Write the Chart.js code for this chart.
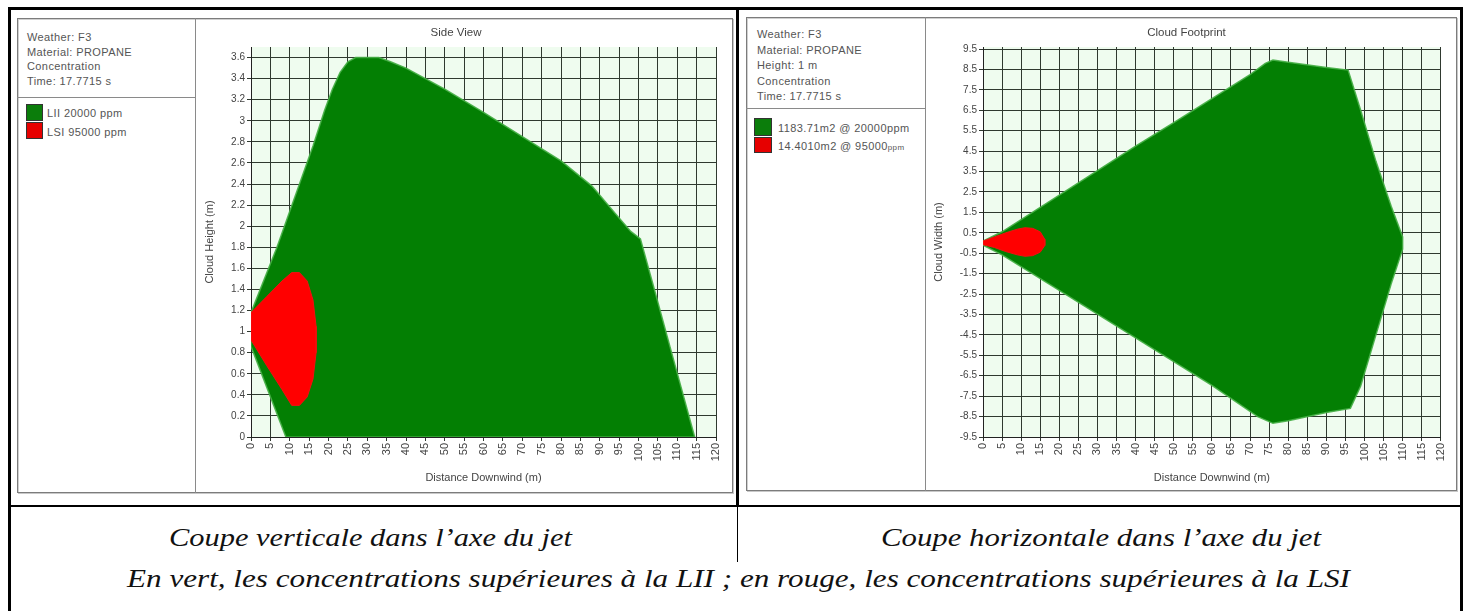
<!DOCTYPE html>
<html>
<head>
<meta charset="utf-8">
<script src="https://cdn.jsdelivr.net/npm/chart.js@4.4.1/dist/chart.umd.min.js"></script>
<style>
html,body{margin:0;padding:0;background:#fff;}
#root{position:relative;width:1469px;height:611px;overflow:hidden;background:#fff;font-family:"Liberation Sans",Arial,sans-serif;}
.bk{position:absolute;background:#000;}
.gl{position:absolute;background:#8a8a8a;}
.frame{position:absolute;border:1px solid #7c7c7c;box-shadow:1px 1px 0 #c8c8c8, inset 1px 1px 0 #d0d0d0;box-sizing:border-box;}
.info{position:absolute;font-size:11px;line-height:14.5px;color:#555;letter-spacing:0.4px;white-space:nowrap;}
.sw{position:absolute;box-sizing:border-box;border:1px solid #333;}
.lt{position:absolute;font-size:11px;color:#555;letter-spacing:0.4px;white-space:nowrap;line-height:14px;}
canvas{position:absolute;}
.cap{position:absolute;font-family:"Liberation Serif",serif;font-style:italic;font-size:25px;line-height:1;color:#111;white-space:nowrap;transform-origin:0 0;}
</style>
</head>
<body>
<div id="root">
  <!-- outer black structure -->
  <div class="bk" style="left:8px;top:7px;width:1455px;height:3px;"></div>
  <div class="bk" style="left:8px;top:7px;width:3px;height:604px;"></div>
  <div class="bk" style="left:1460px;top:7px;width:3px;height:604px;"></div>
  <div class="bk" style="left:736px;top:7px;width:3px;height:500px;"></div>
  <div class="bk" style="left:8px;top:505px;width:1455px;height:2px;"></div>
  <div class="bk" style="left:737px;top:505px;width:1px;height:57px;"></div>

  <!-- left panel -->
  <div class="frame" style="left:17px;top:18px;width:716px;height:475px;"></div>
  <div class="gl" style="left:195px;top:18px;width:1px;height:475px;"></div>
  <div class="gl" style="left:17px;top:97px;width:178px;height:1px;"></div>
  <div class="info" style="left:27px;top:30px;">Weather: F3<br>Material: PROPANE<br>Concentration<br>Time: 17.7715 s</div>
  <div class="sw" style="left:26px;top:104px;width:17px;height:17px;background:#0b7d0b;"></div>
  <div class="sw" style="left:26px;top:122px;width:17px;height:17px;background:#e60000;"></div>
  <div class="lt" style="left:47px;top:106px;">LII 20000 ppm</div>
  <div class="lt" style="left:47px;top:125px;">LSI 95000 ppm</div>
  <canvas id="c1" width="536" height="470" style="left:196px;top:20px;width:536px;height:470px;"></canvas>

  <!-- right panel -->
  <div class="frame" style="left:746px;top:17px;width:711px;height:474px;"></div>
  <div class="gl" style="left:925px;top:17px;width:1px;height:474px;"></div>
  <div class="gl" style="left:746px;top:108px;width:179px;height:1px;"></div>
  <div class="info" style="left:757px;top:27px;line-height:15.5px;">Weather: F3<br>Material: PROPANE<br>Height: 1 m<br>Concentration<br>Time: 17.7715 s</div>
  <div class="sw" style="left:754px;top:118px;width:18px;height:18px;background:#0b7d0b;"></div>
  <div class="sw" style="left:754px;top:137px;width:18px;height:16px;background:#e60000;"></div>
  <div class="lt" style="left:778px;top:121px;">1183.71m2 @ 20000ppm</div>
  <div class="lt" style="left:778px;top:139px;">14.4010m2 @ 95000<span style="font-size:8px;">ppm</span></div>
  <canvas id="c2" width="530" height="470" style="left:926px;top:20px;width:530px;height:470px;"></canvas>

  <!-- captions -->
  <div class="cap" id="cap1" data-cx="370" data-w="403" style="top:525px;">Coupe verticale dans l’axe du jet</div>
  <div class="cap" id="cap2" data-cx="1101" data-w="440" style="top:525px;">Coupe horizontale dans l’axe du jet</div>
  <div class="cap" id="cap3" data-cx="738" data-w="1223" style="top:566px;">En vert, les concentrations supérieures à la LII ; en rouge, les concentrations supérieures à la LSI</div>
</div>
<script>
// ---------- data ----------
const xTicks = [0,5,10,15,20,25,30,35,40,45,50,55,60,65,70,75,80,85,90,95,100,105,110,115,120];
const yTicksSide = [0,0.2,0.4,0.6,0.8,1,1.2,1.4,1.6,1.8,2,2.2,2.4,2.6,2.8,3,3.2,3.4,3.6];
const yTicksFoot = [-9.5,-8.5,-7.5,-6.5,-5.5,-4.5,-3.5,-2.5,-1.5,-0.5,0.5,1.5,2.5,3.5,4.5,5.5,6.5,7.5,8.5,9.5];

// Side view: LII (green) outline
const sideGreenX = [9, 0, 0, 6.7, 16, 19, 21, 23, 25, 27, 33, 36, 40, 50, 60, 70, 80, 88, 94, 98, 100.5, 104.1, 108.1, 114.5, 9];
const sideGreenY = [0, 0.86, 1.18, 1.8, 2.76, 3.1, 3.3, 3.46, 3.56, 3.6, 3.6, 3.56, 3.5, 3.3, 3.08, 2.85, 2.62, 2.38, 2.12, 1.95, 1.88, 1.4, 0.86, 0, 0];
// Side view: LSI (red) outline
const sideRedX = [0, 0, 4, 8, 10.5, 12.5, 14.5, 16, 16.8, 16.8, 16, 14.5, 12.5, 10.5, 8, 4, 0];
const sideRedY = [0.92, 1.18, 1.33, 1.48, 1.56, 1.56, 1.48, 1.3, 1.05, 0.8, 0.55, 0.38, 0.3, 0.3, 0.45, 0.68, 0.92];

// Footprint: LII (green) outline
const footGreenX = [0, 5, 10, 20, 30, 40, 50, 60, 70, 74, 76, 80, 90, 95.7, 99, 103, 107, 110, 110, 107, 103, 99, 96.3, 90, 80, 76, 72, 60, 40, 20, 5, 0, 0];
const footGreenY = [0.1, 0.55, 1.15, 2.35, 3.55, 4.75, 5.9, 7.07, 8.25, 8.8, 8.96, 8.85, 8.6, 8.47, 6.5, 4.0, 1.8, 0.3, -0.3, -2.0, -4.5, -7.0, -8.1, -8.3, -8.7, -8.83, -8.5, -6.97, -4.65, -2.32, -0.58, -0.1, 0.1];
// Footprint: LSI (red) outline
const footRedX = [0, 3, 6, 9, 11, 13, 15, 16.2, 16.2, 15, 13, 11, 9, 6, 3, 0, 0];
const footRedY = [0.1, 0.3, 0.5, 0.68, 0.75, 0.72, 0.55, 0.18, -0.12, -0.45, -0.62, -0.65, -0.58, -0.42, -0.22, -0.08, 0.1];

// ---------- helpers ----------
Chart.defaults.font.family = '"Liberation Sans", Arial, sans-serif';
Chart.defaults.animation = false;
const gridColor = '#2f392f';
const txt = '#444';
const pts = (xs, ys) => xs.map((x, i) => ({x: x, y: ys[i]}));
const fmt = v => String(Math.round(v * 100) / 100);

const bgPlugin = {
  id: 'plotBg',
  beforeDraw(chart) {
    const a = chart.chartArea, c = chart.ctx;
    c.save(); c.fillStyle = '#effcef';
    c.fillRect(a.left, a.top, a.right - a.left, a.bottom - a.top);
    c.restore();
  }
};

function makeChart(id, cfg) {
  return new Chart(document.getElementById(id), {
    type: 'scatter',
    data: {
      datasets: [
        {label: cfg.redLabel, data: pts(cfg.rx, cfg.ry), showLine: true, fill: 'shape', tension: 0,
         backgroundColor: '#ff0000', borderColor: '#f21010', borderWidth: 1, pointRadius: 0, order: 0},
        {label: cfg.greenLabel, data: pts(cfg.gx, cfg.gy), showLine: true, fill: 'shape', tension: 0,
         backgroundColor: '#037f03', borderColor: 'rgba(70,175,70,0.9)', borderWidth: 1.5, pointRadius: 0, order: 1}
      ]
    },
    options: {
      responsive: false,
      layout: {padding: {left: 0, right: cfg.padRight, top: 0, bottom: 0}},
      plugins: {
        legend: {display: false},
        tooltip: {enabled: false},
        title: {display: true, text: cfg.title, color: '#444', font: {size: 11.5, weight: 'normal', lineHeight: 1}, padding: {top: 7, bottom: 8.5}}
      },
      scales: {
        x: {
          type: 'linear', min: 0, max: 120,
          afterBuildTicks: ax => { ax.ticks = xTicks.map(v => ({value: v})); },
          afterFit: s => { s.height = 53; },
          ticks: {autoSkip: false, minRotation: 90, maxRotation: 90, padding: 2, color: txt, font: {size: 11}, callback: v => fmt(v)},
          grid: {color: gridColor, lineWidth: 1, tickLength: 4},
          border: {color: '#222', width: 1},
          title: {display: true, text: 'Distance Downwind (m)', color: txt, font: {size: 11}, padding: {top: 0, bottom: 5}}
        },
        y: {
          type: 'linear', min: cfg.ymin, max: cfg.ymax,
          afterBuildTicks: ax => { ax.ticks = cfg.yticks.map(v => ({value: v})); },
          afterFit: s => { s.width = cfg.yWidth; },
          ticks: {autoSkip: false, padding: 2, color: txt, font: {size: 10}, callback: v => fmt(v)},
          grid: {color: gridColor, lineWidth: 1, tickLength: 4},
          border: {color: '#222', width: 1},
          title: {display: true, text: cfg.ytitle, color: txt, font: {size: 11}, padding: {top: cfg.yTitlePad, bottom: 0}}
        }
      }
    },
    plugins: [bgPlugin]
  });
}

makeChart('c1', {
  title: 'Side View', ytitle: 'Cloud Height (m)', ymin: 0, ymax: 3.7, yticks: yTicksSide,
  yWidth: 55, padRight: 16, yTitlePad: 7,
  gx: sideGreenX, gy: sideGreenY, rx: sideRedX, ry: sideRedY,
  greenLabel: 'LII 20000 ppm', redLabel: 'LSI 95000 ppm'
});
makeChart('c2', {
  title: 'Cloud Footprint', ytitle: 'Cloud Width (m)', ymin: -9.5, ymax: 9.6, yticks: yTicksFoot,
  yWidth: 57, padRight: 9, yTitlePad: 6,
  gx: footGreenX, gy: footGreenY, rx: footRedX, ry: footRedY,
  greenLabel: '1183.71m2 @ 20000ppm', redLabel: '14.4010m2 @ 95000ppm'
});

// fit captions to their measured widths
document.querySelectorAll('.cap').forEach(el => {
  const w = el.getBoundingClientRect().width;
  const target = +el.dataset.w, cx = +el.dataset.cx;
  const s = target / w;
  el.style.transform = 'scaleX(' + s + ')';
  el.style.left = (cx - target / 2) + 'px';
});
</script>
</body>
</html>
